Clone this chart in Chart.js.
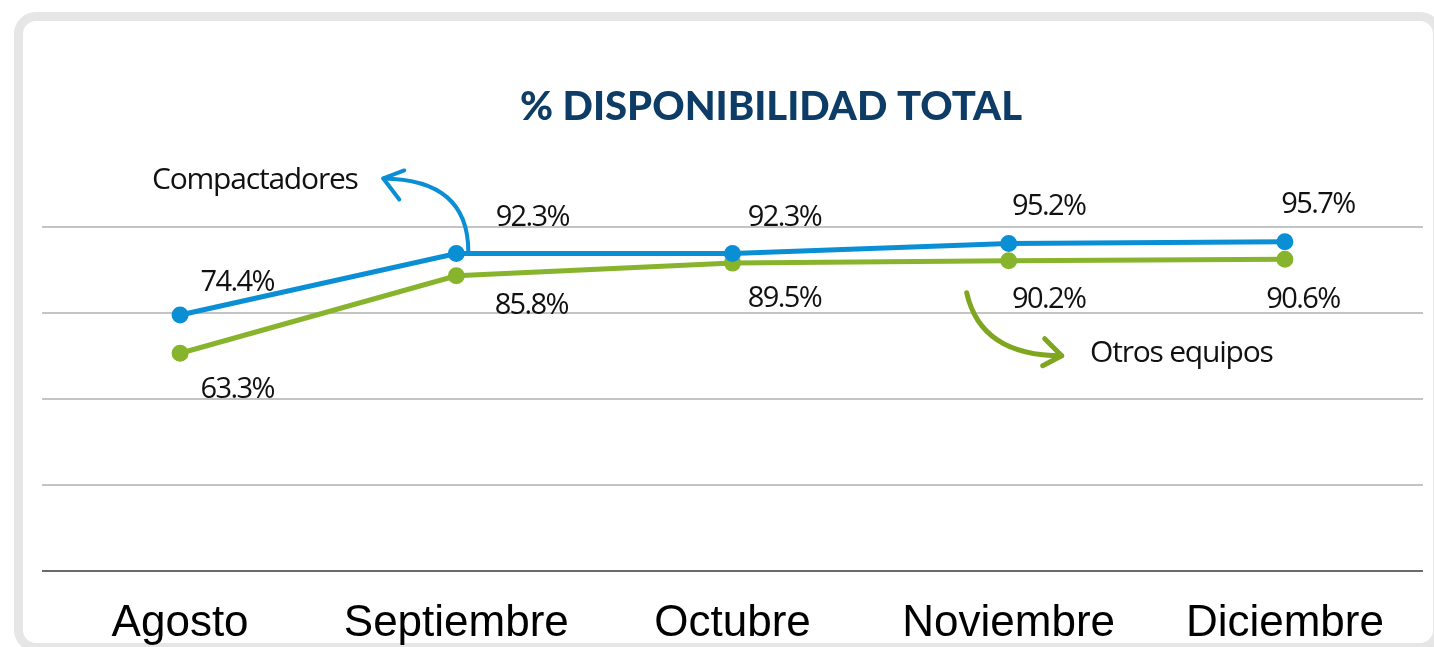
<!DOCTYPE html>
<html>
<head>
<meta charset="utf-8">
<script src="https://cdn.jsdelivr.net/npm/chart.js@4.4.1/dist/chart.umd.min.js"></script>
<style>
  html, body { margin: 0; padding: 0; background: #fff; }
  #card {
    position: absolute; left: 14px; top: 12px; width: 1428px; height: 640px;
    border: 9px solid #e6e6e6; border-radius: 22px; box-sizing: border-box;
  }
  #wrap { position: absolute; left: 0; top: 0; width: 1434px; height: 647px; }
</style>
</head>
<body>
<div id="card"></div>
<div id="wrap"><canvas id="chart" width="1434" height="647"></canvas></div>
<script>
const months = ['Agosto', 'Septiembre', 'Octubre', 'Noviembre', 'Diciembre'];
const compactadores = [74.4, 92.3, 92.3, 95.2, 95.7];
const otrosEquipos = [63.3, 85.8, 89.5, 90.2, 90.6];
const yTicks = [0, 25, 50, 75, 100];

const BLUE = '#0a8fd4';
const GREEN = '#88b42d';

// value labels + annotation arrows
const overlay = {
  id: 'overlay',
  afterDatasetsDraw(chart) {
    const ctx = chart.ctx;
    const lbl = chart.options.plugins.overlay;
    ctx.save();
    ctx.font = '29px "Open Sans"';
    ctx.letterSpacing = '-1.6px';
    ctx.fillStyle = '#111';
    ctx.textAlign = 'center';
    ctx.textBaseline = 'middle';
    chart.data.datasets.forEach((ds, i) => {
      const meta = chart.getDatasetMeta(i);
      const off = lbl.offsets[i];
      meta.data.forEach((pt, j) => {
        ctx.fillText(ds.data[j].toFixed(1) + '%', pt.x + off.dx[j], pt.y + off.dy[j]);
      });
    });

    // title
    ctx.letterSpacing = '0px';
    ctx.font = '900 40px Lato';
    ctx.fillStyle = '#0d3d66';
    ctx.fillText('% DISPONIBILIDAD TOTAL', 771, 107);

    // arrows
    const b = chart.getDatasetMeta(0).data[1];
    const g = chart.getDatasetMeta(1).data[3];
    ctx.lineCap = 'round';
    ctx.lineJoin = 'round';

    ctx.strokeStyle = BLUE;
    ctx.lineWidth = 4;
    ctx.beginPath();
    ctx.moveTo(b.x + 12, b.y - 2);
    ctx.quadraticCurveTo(b.x + 12, b.y - 74, b.x - 73, b.y - 75);
    ctx.stroke();
    ctx.beginPath();
    ctx.moveTo(b.x - 52, b.y - 83);
    ctx.lineTo(b.x - 73, b.y - 75);
    ctx.lineTo(b.x - 57, b.y - 54);
    ctx.stroke();

    ctx.strokeStyle = '#7ea61f';
    ctx.lineWidth = 5;
    ctx.beginPath();
    ctx.moveTo(g.x - 42, g.y + 32);
    ctx.quadraticCurveTo(g.x - 28, g.y + 95, g.x + 53, g.y + 95);
    ctx.stroke();
    ctx.beginPath();
    ctx.moveTo(g.x + 36, g.y + 78);
    ctx.lineTo(g.x + 53, g.y + 95);
    ctx.lineTo(g.x + 34, g.y + 105);
    ctx.stroke();

    ctx.font = '30px "Open Sans"';
    ctx.letterSpacing = '-1.2px';
    ctx.fillStyle = '#111';
    ctx.textAlign = 'left';
    ctx.fillText('Compactadores', 152, 180);
    ctx.fillText('Otros equipos', 1090, 353);
    ctx.restore();
  }
};

new Chart(document.getElementById('chart'), {
  type: 'line',
  data: {
    labels: months,
    datasets: [
      {
        label: 'Compactadores', data: compactadores,
        borderColor: BLUE, backgroundColor: BLUE, borderWidth: 5,
        pointRadius: 6, pointHoverRadius: 6, tension: 0
      },
      {
        label: 'Otros equipos', data: otrosEquipos,
        borderColor: GREEN, backgroundColor: GREEN, borderWidth: 5,
        pointRadius: 6, pointHoverRadius: 6, tension: 0
      }
    ]
  },
  options: {
    responsive: false,
    animation: false,
    layout: { padding: { left: 42, right: 9, top: 227, bottom: 0 } },
    plugins: {
      legend: { display: false },
      tooltip: { enabled: false },
      overlay: {
        offsets: [
          { dx: [57, 76, 52, 40, 33], dy: [-32, -36, -36, -37, -37] },
          { dx: [57, 75, 52, 40, 18], dy: [36, 30, 36, 39, 40] }
        ]
      }
    },
    scales: {
      x: {
        offset: true,
        afterFit: (axis) => { axis.height = 76; },
        grid: { display: false, drawTicks: false },
        border: { display: false },
        ticks: {
          color: '#000', padding: 26, maxRotation: 0,
          font: { family: '"Liberation Sans", Arial, sans-serif', size: 44 }
        }
      },
      y: {
        min: 0, max: 100,
        afterBuildTicks: (axis) => { axis.ticks = yTicks.map(v => ({ value: v })); },
        afterFit: (axis) => { axis.width = 0; },
        ticks: { display: false },
        border: { display: false },
        grid: {
          drawTicks: false,
          lineWidth: 2,
          color: (c) => c.tick && c.tick.value === 0 ? '#6b6b6b' : '#c4c4c4'
        }
      }
    }
  },
  plugins: [overlay]
});
</script>
</body>
</html>
